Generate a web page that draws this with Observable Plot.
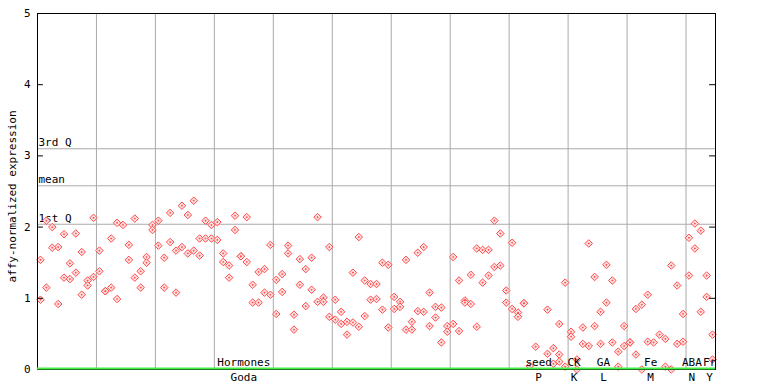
<!DOCTYPE html>
<html>
<head>
<meta charset="utf-8">
<script src="https://cdn.jsdelivr.net/npm/d3@7"></script>
<script src="https://cdn.jsdelivr.net/npm/@observablehq/plot@0.6"></script>
<style>
  html, body { margin: 0; padding: 0; background: #fff; }
  #chart svg { display: block; }
</style>
</head>
<body>
<div id="chart"></div>
<script>
// Replicate values per sample column (115 columns), null = no point
const rep1 = [1.54,2.09,2.00,1.72,1.90,1.49,1.91,1.65,1.25,2.13,
              1.67,1.10,1.84,2.06,2.03,1.75,2.12,1.38,1.58,2.03,
              2.09,1.57,2.20,1.67,2.30,2.17,2.37,1.84,2.09,2.03,
              2.07,1.63,1.46,2.16,1.59,2.14,1.19,1.37,1.41,1.75,
              1.26,1.34,1.74,0.77,1.55,1.41,1.57,2.14,1.01,1.72,
              0.98,0.81,0.67,1.36,1.86,1.25,1.20,1.20,1.50,1.47,
              1.02,0.95,1.54,0.67,1.64,1.72,1.08,0.88,0.87,0.61,
              1.58,1.25,0.97,1.33,1.70,1.68,1.68,2.09,1.91,1.11,
              1.78,0.80,0.93,0.05,0.32,null,0.84,0.30,0.64,1.22,
              0.53,0.14,0.59,1.77,1.30,0.81,1.47,1.25,0.25,0.61,
              0.38,0.85,0.91,1.05,0.38,0.49,0.43,1.46,1.18,0.78,
              1.85,2.05,1.95,1.32,0.49];
const rep2 = [0.98,1.15,1.71,0.92,1.29,1.27,1.36,1.05,1.18,1.30,
              1.38,1.10,1.15,0.99,null,1.54,1.29,1.15,1.50,1.96,
              1.74,1.15,1.79,1.08,1.72,1.63,1.67,1.60,1.84,1.84,
              1.82,1.51,1.29,1.96,1.59,1.51,0.94,0.94,1.08,1.05,
              0.78,1.09,1.63,0.56,1.19,0.89,1.12,0.95,0.95,0.74,
              0.70,0.64,0.49,0.66,0.60,0.75,0.98,0.99,0.84,0.59,
              0.85,0.88,0.56,0.56,0.82,0.81,0.61,0.73,0.38,0.53,
              0.64,0.54,0.94,0.92,0.60,1.22,1.32,1.44,1.46,0.94,
              0.85,0.74,0.93,null,null,null,0.22,0.08,0.21,0.04,
              0.46,0.00,0.36,0.33,0.61,0.36,0.94,0.38,0.04,0.33,
              0.38,0.21,0.00,0.39,null,null,0.04,0.00,0.36,0.39,
              1.32,1.70,0.81,1.02,0.14];
const rep3 = Array.from({length: 115}, (_, i) => i === 88 ? 0.11 : null);

// Reference lines
const refLabels = ["3rd Q", "mean", "1st Q"];
const refValues = [3.10, 2.58, 2.04];

// Y axis ticks
const yTicks = [0, 1, 2, 3, 4, 5];
const gridCols = [10, 20, 30, 40, 50, 60, 70, 80, 90, 100, 110];

// Experiment labels along the bottom axis
const topLabels = ["Hormones", "seed", "CK", "GA", "Fe", "ABA", "Fr"];
const bottomLabels = ["Goda", "P", "K", "L", "M", "N", "Y"];
const labelCenters = [35, 85, 91, 96, 104, 111, 114];

const points = [];
[rep1, rep2, rep3].forEach(rep => rep.forEach((v, i) => {
  if (v !== null) points.push({col: i + 0.5, value: v});
}));
const labelRows = topLabels.map((t, i) => ({top: t, bottom: bottomLabels[i], x: labelCenters[i]}));
const refRows = refLabels.map((t, i) => ({label: t, value: refValues[i]}));

const font = "DejaVu Sans Mono, monospace";
const red = "#ff4a4a";

const chart = Plot.plot({
  width: 768,
  height: 384,
  marginLeft: 37,
  marginRight: 53,
  marginTop: 13,
  marginBottom: 15,
  style: {fontFamily: font, fontSize: "11px", background: "white", color: "black"},
  x: {domain: [0, 115], axis: null},
  y: {domain: [0, 5], axis: null},
  marks: [
    Plot.ruleX(gridCols, {stroke: "#aaaaaa", strokeWidth: 1}),
    Plot.ruleY(refRows, {y: "value", stroke: "#aaaaaa", strokeWidth: 1}),
    Plot.text(refRows, {x: 0, y: "value", text: "label", textAnchor: "start", dx: 1, dy: -6, fontSize: 11, fill: "black"}),
    Plot.dot(points, {x: "col", y: "value", symbol: "diamond2", r: 3.4, stroke: red, strokeWidth: 1, fill: "#ffe0e0"}),
    Plot.dot(points, {x: "col", y: "value", symbol: "diamond2", r: 1, fill: red, stroke: "none"}),
    Plot.frame({stroke: "black", strokeWidth: 1}),
    Plot.ruleY([0], {stroke: "#44ee44", strokeWidth: 2, dy: -1}),
    Plot.ruleY(yTicks.slice(1, 5), {x1: 0, x2: 1, stroke: "black"}),
    Plot.ruleY(yTicks.slice(1, 5), {x1: 114, x2: 115, stroke: "black"}),
    Plot.axisY(yTicks, {anchor: "left", tickSize: 0, tickPadding: 7, fontSize: 11, label: null, tickFormat: d => String(d)}),
    Plot.text(["affy-normalized expression"], {frameAnchor: "left", textAnchor: "middle", dx: -25, dy: 5, rotate: -90, fontSize: 11, fill: "black"}),
    Plot.text(labelRows, {x: "x", y: 0, text: "top", dy: -7, fontSize: 11, fill: "black"}),
    Plot.text(labelRows, {x: "x", y: 0, text: "bottom", dy: 8, fontSize: 11, fill: "black"})
  ]
});
document.getElementById("chart").appendChild(chart);
</script>
</body>
</html>
